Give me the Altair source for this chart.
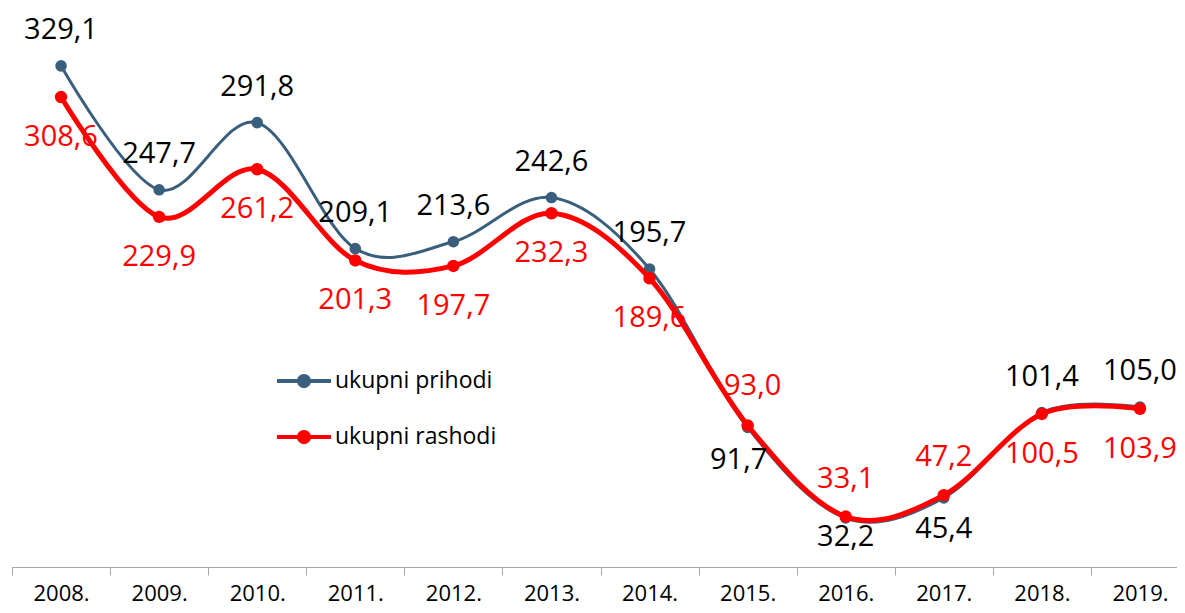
import altair as alt
import pandas as pd

years = ["2008.", "2009.", "2010.", "2011.", "2012.", "2013.", "2014.",
         "2015.", "2016.", "2017.", "2018.", "2019."]
prihodi = [329.1, 247.7, 291.8, 209.1, 213.6, 242.6, 195.7, 91.7, 32.2, 45.4, 101.4, 105.0]
rashodi = [308.6, 229.9, 261.2, 201.3, 197.7, 232.3, 189.6, 93.0, 33.1, 47.2, 100.5, 103.9]
series_names = ["ukupni prihodi", "ukupni rashodi"]
# where each value label sits relative to its point
pri_label_pos = ["above"] * 7 + ["below-left", "below-near", "below", "above", "above"]
ras_label_pos = ["below"] * 7 + ["above-right", "above", "above", "below", "below"]

rows = []
for s, vals, poss in [(series_names[0], prihodi, pri_label_pos),
                      (series_names[1], rashodi, ras_label_pos)]:
    for y, v, p in zip(years, vals, poss):
        rows.append({"year": y, "series": s, "value": v, "pos": p})
df = pd.DataFrame(rows)
df["label"] = df["value"].map(lambda v: f"{v:.1f}".replace(".", ","))

FONT = "Open Sans"
line_color = {series_names[0]: "#3A5F7D", series_names[1]: "#FF0000"}
line_width = {series_names[0]: 3, series_names[1]: 5}
point_size = {series_names[0]: 135, series_names[1]: 155}
text_color = {series_names[0]: "#000000", series_names[1]: "#FF0000"}
offsets = {
    series_names[0]: {"above": (0, -36), "below-left": (-9, 33), "below-near": (0, 19), "below": (0, 31)},
    series_names[1]: {"below": (0, 40), "above-right": (5, -39), "above": (0, -38)},
}

x_enc = alt.X("year:N", sort=years,
              scale=alt.Scale(type="band", paddingInner=0, paddingOuter=0),
              axis=alt.Axis(title=None, labelAngle=0, tickBand="extent", grid=False,
                            domainColor="#A6A6A6", tickColor="#A6A6A6", tickSize=8,
                            domainWidth=1, tickWidth=1, labelFont=FONT, labelFontSize=22,
                            labelColor="#000000", labelPadding=8))
y_enc = alt.Y("value:Q", scale=alt.Scale(domain=[0, 350], nice=False, zero=True), axis=None)

legend_path = ("M-1,-0.07H1V0.07H-1Z"
               "M-0.26,0A0.26,0.26 0 1,1 0.26,0A0.26,0.26 0 1,1 -0.26,0Z")

base = alt.Chart(df)
layers = []
for s in series_names:
    sub = base.transform_filter(alt.datum.series == s)
    layers.append(sub.mark_line(interpolate="cardinal", strokeWidth=line_width[s],
                                color=line_color[s]).encode(x=x_enc, y=y_enc))
    layers.append(sub.mark_point(filled=True, opacity=1, size=point_size[s], shape="circle").encode(
        x=x_enc, y=y_enc,
        color=alt.Color("series:N",
                        scale=alt.Scale(domain=series_names,
                                        range=[line_color[n] for n in series_names]),
                        legend=alt.Legend(title=None, orient="none", legendX=265, legendY=320,
                                          symbolType=legend_path, symbolSize=2916,
                                          symbolStrokeWidth=0, labelFont=FONT,
                                          labelFontSize=23, labelColor="#000000",
                                          labelLimit=400,
                                          labelOffset=4, rowPadding=17, padding=0))))
for s in series_names:
    for p, (dx, dy) in offsets[s].items():
        layers.append(base.transform_filter((alt.datum.series == s) & (alt.datum.pos == p))
                      .mark_text(font=FONT, fontSize=29, dx=dx, dy=dy, align="center",
                                 baseline="middle", color=text_color[s])
                      .encode(x=x_enc, y=y_enc, text="label:N"))

chart = alt.layer(*layers).properties(
    width=1177, height=533, background="white",
    padding={"left": 4, "top": 26, "right": -12, "bottom": 38},
    autosize=alt.AutoSizeParams(type="none"),
).configure_view(strokeWidth=0, stroke="transparent")

chart.save("out.html", embed_options={"renderer": "svg", "actions": False})
